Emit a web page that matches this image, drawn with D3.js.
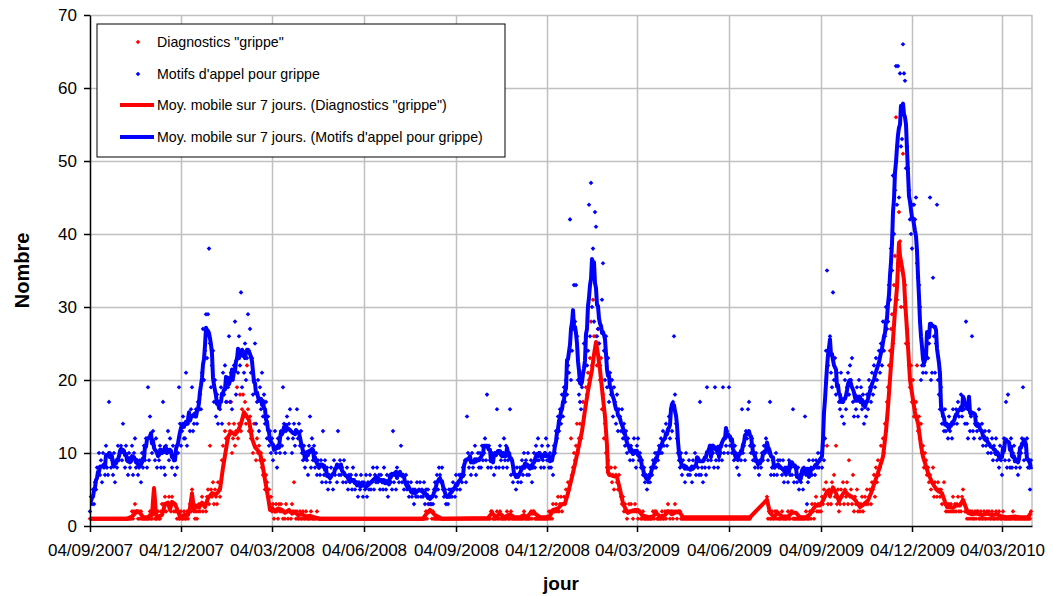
<!DOCTYPE html>
<html>
<head>
<meta charset="utf-8">
<script src="https://cdn.jsdelivr.net/npm/d3@7/dist/d3.min.js"></script>
<style>
  body { margin: 0; background: #fff; }
  svg text { font-family: Arial, "Liberation Sans", sans-serif; }
</style>
</head>
<body>
<svg id="chart" width="1053" height="596"></svg>
<script>
////// DONNEES

// premier jour de la série (jour 0)
var startDay = "04/09/2007";

// étiquettes de l'axe des x (tous les 3 mois)
var xTickLabels = ["04/09/2007", "04/12/2007", "04/03/2008", "04/06/2008", "04/09/2008", "04/12/2008",
                   "04/03/2009", "04/06/2009", "04/09/2009", "04/12/2009", "04/03/2010"];
var yTicks = [0, 10, 20, 30, 40, 50, 60, 70];

var seriesNames = ["Diagnostics \"grippe\"", "Motifs d'appel pour grippe",
                   "Moy. mobile sur 7 jours. (Diagnostics \"grippe\")",
                   "Moy. mobile sur 7 jours. (Motifs d'appel pour grippe)"];

// Motifs d'appel pour grippe, un point par jour
var blueDaily = [
  2,4,3,5,3,6,5,8,7,10, 7,9,6,10,8,7,11,8,7,17, 10,8,9,7,10,6,9,8,11,9, 10,11,9,14,10,8,11,9,7,10,
  8,9,11,7,10,12,8,9,7,8, 9,6,10,8,11,9,12,8,19,9, 15,12,10,13,11,9,12,8,10,9, 11,8,10,17,8,7,11,10,13,9,
  12,10,8,11,9,7,10,8,10,19, 14,11,13,15,12,12,21,11,14,15, 13,16,19,13,14,15,16,14,17,16, 18,16,21,27,20,24,29,23,29,38,
  25,19,22,24,17,20,15,18,14,17, 16,19,14,21,18,22,17,20,19,26, 17,21,16,20,22,28,18,23,21,26, 22,32,19,24,21,25,20,23,29,24,
  27,21,23,18,20,25,14,17,20,13, 19,16,21,15,18,14,17,12,15,11, 13,10,12,9,11,13,10,8,12,11, 10,13,11,19,14,10,13,15,12,14,
  16,13,10,12,14,11,13,16,12,14, 11,13,10,9,11,8,10,9,7,11, 15,8,12,9,11,8,10,7,9,8, 7,9,6,13,7,9,6,8,5,7,
  6,8,7,5,9,7,8,6,13,7, 9,7,8,6,9,7,6,8,5,7, 6,7,5,8,6,5,7,6,4,6, 5,7,6,4,6,5,7,4,6,5,
  7,5,6,8,5,7,6,8,6,7, 5,7,6,5,8,6,5,7,4,6, 7,6,5,13,6,7,5,8,7,6, 7,11,6,7,5,6,7,5,6,4,
  5,6,4,5,3,5,4,6,4,5, 6,4,5,4,6,3,5,4,5,3, 4,3,4,3,5,6,4,7,5,8, 7,6,8,5,4,5,3,4,3,5,
  4,5,4,6,5,4,7,5,6,7, 5,7,6,8,7,9,6,15,10,8, 9,7,10,8,9,11,7,9,10,8, 10,8,11,9,10,12,9,18,8,11,
  9,8,10,9,7,10,8,16,10,8, 11,9,10,8,12,9,11,8,9,10, 16,7,9,6,8,7,5,8,6,7, 8,6,9,7,10,8,9,7,10,7,
  8,9,6,8,10,8,11,9,12,9, 10,8,11,9,8,10,12,9,11,8, 10,8,9,7,11,10,13,12,15,13, 16,14,18,15,19,17,20,18,22,21,
  42,20,24,27,33,28,33,26,20,18, 17,16,19,21,25,22,26,22,24,44, 26,47,30,38,28,43,41,26,27,25, 22,27,31,36,24,20,26,19,23,17,
  21,18,20,15,19,17,14,18,13,16, 15,13,16,12,14,11,13,10,12,11, 9,11,10,9,12,10,8,11,12,9, 10,8,9,7,8,6,7,5,6,7,
  6,8,7,9,8,10,8,10,9,11, 10,12,10,13,11,12,14,11,13,15, 12,16,13,17,26,18,14,12,10,9, 8,10,7,9,8,6,10,8,7,9,
  7,8,6,9,8,10,7,9,8,7, 17,7,8,6,9,8,7,19,9,8, 11,9,11,10,8,19,9,10,8,9, 11,10,9,19,10,12,11,13,10,19,
  11,12,10,11,9,11,10,8,9,7, 10,9,16,10,11,9,13,12,16,17, 11,10,12,9,11,8,10,9,8,7, 9,8,10,9,11,10,12,11,9,10,
  17,7,8,9,7,8,10,7,9,8, 9,8,7,9,6,8,7,8,6,9, 7,8,7,16,6,8,7,6,8,5, 7,6,7,5,8,15,7,3,6,9,
  7,8,7,9,8,7,9,8,10,8, 9,10,8,11,9,12,24,35,22,24, 26,21,19,32,20,23,18,21,19,17, 16,21,15,17,14,20,16,19,21,18,
  22,20,23,17,15,18,16,19,15,20, 17,19,16,18,14,17,15,18,16,20, 19,17,21,18,22,19,23,20,22,24, 21,25,22,28,24,26,30,27,28,33,
  31,38,35,48,40,46,63,44,63,45, 62,52,53,66,62,61,49,52,49,46, 42,40,38,44,44,42,45,36,34,33, 30,20,22,21,22,24,21,26,23,25,
  45,20,21,34,26,21,25,44,20,18, 16,19,14,15,13,16,13,14,12,15, 13,14,12,16,14,15,16,14,17,15, 16,18,15,17,16,14,28,14,12,16,
  13,15,26,13,12,14,15,13,14,16, 12,13,14,11,12,13,11,12,10,13, 11,10,12,9,11,10,12,9,10,8, 11,9,7,10,12,9,17,8,18,9,
  8,12,8,10,11,9,8,9,7,10, 8,10,12,19,9,11,10,12,8,9, 5,9
];

// Diagnostics "grippe", un point par jour (0 = pas de valeur)
var redDaily = [
  1,1,1,1,1,1,1,1,1,1, 1,1,1,1,1,1,1,1,1,1, 1,1,1,1,1,1,1,1,1,1, 1,1,1,1,1,1,1,1,1,1,
  1,1,2,1,2,3,2,2,1,2, 1,2,1,1,1,1,1,1,1,1, 2,1,1,2,5,1,1,1,2,1, 1,2,3,2,3,4,2,3,3,4,
  3,2,4,3,2,3,2,1,2,1, 1,2,1,1,2,1,1,2,1,2, 3,2,5,3,2,1,2,1,2,3, 2,3,4,2,3,3,2,4,5,3,
  11,5,4,6,3,5,4,3,6,5, 4,6,9,11,9,13,12,17,12,14, 13,17,10,12,14,11,13,19,12,14, 18,13,16,18,15,17,14,22,16,13,
  15,12,13,10,14,11,9,12,10,11, 9,10,8,7,9,5,7,6,4,5, 3,4,2,3,1,2,3,2,1,3, 2,3,2,1,2,1,3,2,1,2,
  2,1,3,2,6,2,1,2,1,1, 2,1,1,2,1,1,2,1,1,1, 1,2,1,1,1,1,1,2,1,1,
  1,1,1,1,1,1,1,1,1,1, 1,1,1,1,1,1,1,1,1,1, 1,1,1,1,1,1,1,1,1,1, 1,1,1,1,1,1,1,1,1,1, 1,1,1,1,1,1,1,1,1,1,
  1,1,1,1,1,1,1,1,1,1, 1,1,1,1,1,1,1,1,1,1, 1,1,1,1,1,1,1,1,1,1, 1,1,1,1,1,1,1,1,1,1, 1,1,1,1,1,1,1,1,1,1,
  1,1,1,1,1,1,2,1,3,2, 2,3,1,2,1,1,1,1,1,1,
  1,1,1,1,1,1,1,1,1,1, 1,1,1,1,1,1,1,1,1,1, 1,1,1,1,1,1,1,1,1,1, 1,1,1,1,1,1,1,1,1,1, 1,1,1,1,1,1,1,1,1,1,
  1,2,2,1,1,1,1,2,1,1, 2,1,1,1,1,1,1,2,1,1, 1,2,1,1,1,1,1,1,1,1, 1,1,1,1,2,1,1,1,1,1,
  1,2,1,2,2,1,1,1,1,1, 1,1,1,1,1,1,1,1,1,2, 1,2,1,3,2,2,3,2,4,2, 3,4,2,3,4,3,5,4,6,5,
  6,12,7,8,10,9,11,14,10,12, 14,12,13,17,15,16,19,18,21,20, 23,28,22,31,26,24,26,22,27,25, 20,23,16,18,12,14,10,8,9,7,
  7,8,6,7,5,8,7,6,5,7, 5,4,3,4,2,3,2,1,2,3, 2,3,2,1,2,3,2,2,1,2, 2,1,1,2,1,1,1,1,1,1,
  1,1,1,2,1,2,2,1,1,1, 1,1,2,1,1,2,1,2,3,2, 1,2,2,1,2,3,2,1,2,2, 2,1,1,1,1,1,1,1,1,1,
  1,1,1,1,1,1,1,1,1,1, 1,1,1,1,1,1,1,1,1,1, 1,1,1,1,1,1,1,1,1,1, 1,1,1,1,1,1,1,1,1,1, 1,1,1,1,1,1,1,1,1,1,
  1,1,1,1,1,1,1,1,1,1,
  1,0,0,0,0,0,0,0,0,0, 0,0,0,0,0,0,0,4,1,2,
  1,1,2,1,1,2,1,2,1,1, 1,1,2,1,1,1,1,1,2,1, 1,2,2,1,1,1,1,1,1,1, 1,1,1,1,1,1,2,1,1,1,
  2,1,3,2,1,3,4,2,3,2, 3,2,4,3,5,4,6,11,3,5, 4,3,6,5,7,4,11,3,5,2, 3,5,4,6,3,5,4,6,3,9,
  4,5,3,7,2,4,3,5,2,3, 2,3,4,2,3,4,3,5,3,4, 5,3,6,5,7,4,8,6,9,7, 8,11,9,12,10,14,13,17,19,22,
  24,27,29,25,33,37,56,31,36,43, 39,30,35,51,30,33,25,27,25,22, 19,22,17,20,15,16,17,22,13,15, 12,14,10,11,8,10,9,7,8,6,
  7,5,6,8,4,6,5,4,6,5, 4,5,3,4,6,3,2,3,2,3, 2,3,2,4,2,3,2,3,4,2, 3,2,4,5,3,2,2,1,2,1,
  2,1,2,1,1,2,1,2,2,1, 1,2,1,1,2,1,1,2,1,2, 1,1,2,1,1,1,2,1,1,2, 1,1,1,2,1,1,1,1,1,1,
  1,1,1,2,1,1,1,1,1,1, 1,1,1,1,1,1,1,1,1,1, 1,2
];

// moyenne mobile "grippe" : [jour, valeur]
var redMa = [
  [0,1],[37,1],[42,1.3],[47,2],[50,1.8],[53,1.2],[58,1.2],[60,1.5],[62,1.5],[63,3.5],[64,5.2],[65,3.5],[66,1.5],
  [68,1.3],[72,1.5],[75,3],[78,3.2],[80,2.2],[82,3.3],[85,3],[88,2],[90,1.3],[94,1.5],[98,1.5],[100,2.5],[102,4.5],
  [104,2.2],[106,2.8],[109,2.5],[112,3.2],[115,2.6],[118,3.8],[122,4.5],[126,4.3],[130,5],[133,8],[136,10.5],
  [138,12.2],[141,12.9],[145,12.5],[148,13],[151,14],[154,15.6],[156,15.2],[159,14.5],[162,12],[165,10.8],[170,10],
  [173,8],[175,6.3],[178,4],[180,2.2],[182,2.5],[185,2],[188,2.4],[192,2.2],[195,1.8],[199,2.2],[202,1.7],[205,1.9],
  [208,1.5],[212,1.6],[216,1.3],[220,1.4],[224,1.2],[230,1],[333,1],[336,1.6],[340,2.2],[345,1.5],[352,1],
  [398,1.1],[402,1.8],[406,1.2],[410,1.7],[414,1.2],[420,1.6],[424,1.2],[430,1.2],[434,1.5],[437,1.2],[440,1.7],
  [445,1.7],[450,1.2],[456,1.2],[460,1.4],[463,2.2],[468,2.4],[472,3],[475,3.1],[478,4.5],[482,6.7],[485,8.5],
  [488,10.4],[492,13],[495,15.9],[498,18.5],[502,21.4],[504,23.5],[506,25.2],[508,23.5],[510,21.4],[513,17.5],
  [515,15],[517,11],[518,7.3],[520,7],[524,6.8],[527,6.7],[530,5],[533,3.1],[536,2.2],[538,1.8],[542,2.1],
  [545,2.2],[548,2.2],[552,1.5],[558,1.2],[563,1.3],[566,1.8],[570,1.3],[575,1.5],[578,2],[582,1.6],[586,1.9],
  [590,1.8],[593,1.2],[660,1.2],[677,3.6],[680,1.8],[684,1.3],[688,1.8],[692,1.3],[698,1.3],[702,1.8],[706,1.8],
  [710,1.2],[716,1.2],[720,1.6],[723,2.3],[726,2.8],[730,2.8],[733,3.5],[737,4.7],[740,4.2],[743,5.3],[746,4.5],
  [749,3.4],[752,4.2],[755,4.8],[758,4.3],[762,4],[765,3.6],[768,3],[770,2.6],[774,3],[778,3.5],[781,4.5],
  [783,5.3],[788,7.3],[793,9.5],[796,13],[798,16.3],[801,22],[803,25.5],[805,29.5],[807,32.7],[809,38.8],
  [810,37],[812,35.5],[814,33.7],[815,31],[817,26.8],[820,20],[823,17.3],[825,15.5],[828,14.1],[831,11],
  [833,9.5],[838,7.3],[842,6],[845,5.3],[848,4.8],[852,4.5],[855,3.3],[857,2.6],[860,2.6],[863,2.5],[866,2.8],
  [870,2.8],[873,3.6],[876,2.5],[878,1.8],[882,1.6],[887,1.7],[892,1.5],[897,1.7],[902,1.5],[907,1.6],[912,1.3],
  [917,1.2],[925,1.3],[930,1.2],[938,1.2],[941,1.8]
];

////// DESSIN

var plotLeft = 90, plotRight = 1032, plotTop = 15, plotBottom = 526;
var red = "#ff0000", blue = "#0000ff", gridColor = "#c0c0c0";

var parseDay = d3.utcParse("%d/%m/%Y");
var t0 = parseDay(startDay);
var dayToDate = function(d) { return d3.utcDay.offset(t0, d); };
var tickDates = xTickLabels.map(parseDay);

var x = d3.scaleUtc().domain([t0, dayToDate(942)]).range([plotLeft, plotRight]);
var y = d3.scaleLinear().domain([0, 70]).range([plotBottom, plotTop]);

// moyenne mobile centrée sur 7 jours des appels
var movingAverage = function(values) {
  return values.map(function(v, i) {
    var w = values.slice(Math.max(0, i - 3), i + 4);
    return [i, d3.mean(w)];
  });
};
var blueMa = movingAverage(blueDaily);

var svg = d3.select("#chart");

// grille
var gy = svg.append("g")
  .attr("transform", "translate(" + plotLeft + ",0)")
  .call(d3.axisLeft(y).tickValues(yTicks.slice(1)).tickSize(-(plotRight - plotLeft)).tickFormat(""));
gy.select(".domain").remove();
gy.selectAll("line").attr("stroke", gridColor).attr("stroke-width", 1.5);

var gx = svg.append("g")
  .attr("transform", "translate(0," + plotBottom + ")")
  .call(d3.axisBottom(x).tickValues(tickDates.slice(1)).tickSize(-(plotBottom - plotTop)).tickFormat(""));
gx.select(".domain").remove();
gx.selectAll("line").attr("stroke", gridColor).attr("stroke-width", 1.5);

svg.append("line")
  .attr("x1", plotRight).attr("x2", plotRight).attr("y1", plotTop).attr("y2", plotBottom)
  .attr("stroke", gridColor).attr("stroke-width", 1.5);

// zone de tracé pour couper les lignes
svg.append("clipPath").attr("id", "plot")
  .append("rect").attr("x", plotLeft).attr("y", plotTop - 2)
  .attr("width", plotRight - plotLeft + 2).attr("height", plotBottom - plotTop + 2);

// points
var dotPath = "M0,-2.3L2.3,0L0,2.3L-2.3,0Z";

var drawDots = function(values, color) {
  var pts = values.map(function(v, i) { return {d: i, v: v}; }).filter(function(p) { return p.v > 0; });
  svg.append("g").selectAll("path")
    .data(pts).enter().append("path")
    .attr("d", dotPath)
    .attr("fill", color)
    .attr("transform", function(p) { return "translate(" + x(dayToDate(p.d)) + "," + y(p.v) + ")"; });
};
drawDots(redDaily, red);
drawDots(blueDaily, blue);

// moyennes mobiles
var line = d3.line()
  .x(function(p) { return x(dayToDate(p[0])); })
  .y(function(p) { return y(p[1]); });

[[redMa, red], [blueMa, blue]].forEach(function(s) {
  svg.append("path")
    .attr("d", line(s[0]))
    .attr("fill", "none")
    .attr("stroke", s[1])
    .attr("stroke-width", 4)
    .attr("stroke-linejoin", "round")
    .attr("clip-path", "url(#plot)");
});

// axes
var ay = svg.append("g")
  .attr("transform", "translate(" + plotLeft + ",0)")
  .call(d3.axisLeft(y).tickValues(yTicks).tickSize(6).tickSizeOuter(0).tickPadding(7));
ay.selectAll("line, path").attr("stroke", "#000").attr("stroke-width", 1.5);
ay.selectAll("text").style("font-size", "17px").attr("fill", "#000");

var ax = svg.append("g")
  .attr("transform", "translate(0," + plotBottom + ")")
  .call(d3.axisBottom(x).tickValues(tickDates).tickSize(6).tickSizeOuter(0).tickPadding(12)
    .tickFormat(function(d, i) { return xTickLabels[i]; }));
ax.selectAll("line, path").attr("stroke", "#000").attr("stroke-width", 1.5);
ax.selectAll("text").style("font-size", "17px").attr("fill", "#000");

// titres des axes
svg.append("text")
  .attr("x", (plotLeft + plotRight) / 2).attr("y", 590)
  .attr("text-anchor", "middle")
  .style("font-size", "19px").style("font-weight", "bold")
  .text("jour");

svg.append("text")
  .attr("transform", "translate(29," + ((plotTop + plotBottom) / 2) + ") rotate(-90)")
  .attr("text-anchor", "middle")
  .style("font-size", "20px").style("font-weight", "bold")
  .text("Nombre");

// légende
var lg = svg.append("g");
lg.append("rect")
  .attr("x", 97).attr("y", 24).attr("width", 408).attr("height", 133)
  .attr("fill", "#fff").attr("stroke", "#000").attr("stroke-width", 1);

var legendRows = [42, 74, 105, 137];
var legendColors = [red, blue, red, blue];
legendRows.forEach(function(ly, i) {
  if (i < 2) {
    lg.append("path").attr("d", dotPath).attr("fill", legendColors[i])
      .attr("transform", "translate(138," + ly + ")");
  } else {
    lg.append("line").attr("x1", 120).attr("x2", 154).attr("y1", ly).attr("y2", ly)
      .attr("stroke", legendColors[i]).attr("stroke-width", 4);
  }
  lg.append("text")
    .attr("x", 157).attr("y", ly).attr("dy", "0.36em")
    .style("font-size", "14.2px")
    .text(seriesNames[i]);
});
</script>
</body>
</html>
